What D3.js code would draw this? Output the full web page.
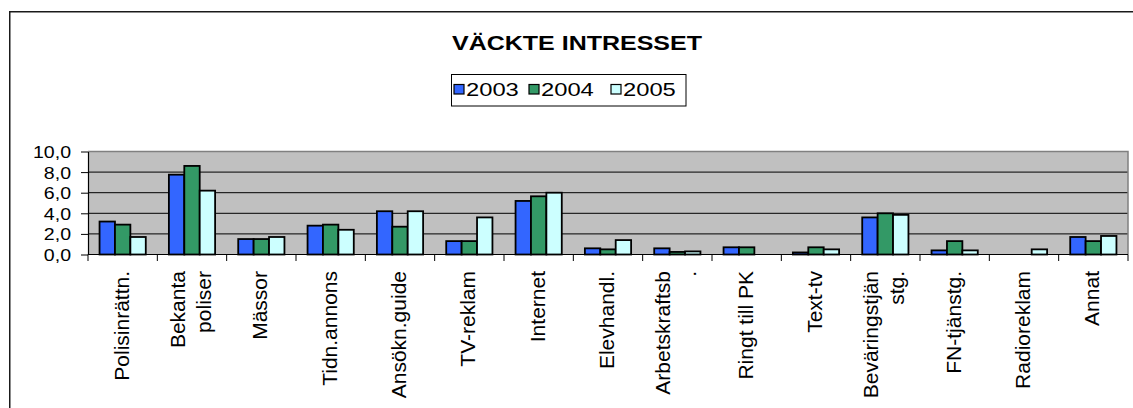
<!DOCTYPE html>
<html><head><meta charset="utf-8">
<script src="https://cdn.jsdelivr.net/npm/d3@7/dist/d3.min.js"></script>
<style>html,body{margin:0;padding:0;background:#fff;overflow:hidden}text{font-family:"Liberation Sans",Arial,sans-serif;fill:#000}</style>
</head><body><svg id="c" width="1133" height="408"></svg>
<script>
const title = "VÄCKTE INTRESSET";
const categories = ["Polisinrättn.","Bekanta\npoliser","Mässor","Tidn.annons","Ansökn.guide","TV-reklam","Internet","Elevhandl.","Arbetskraftsb\n.","Ringt till PK","Text-tv","Beväringstjän\nstg.","FN-tjänstg.","Radioreklam","Annat"];
const seriesNames = ["2003","2004","2005"];
const values2003 = [3.2,7.75,1.5,2.8,4.2,1.3,5.2,0.6,0.6,0.7,0.2,3.6,0.4,0,1.7];
const values2004 = [2.9,8.6,1.5,2.9,2.7,1.3,5.65,0.5,0.25,0.7,0.7,4.0,1.3,0,1.3];
const values2005 = [1.7,6.2,1.7,2.4,4.2,3.6,6.0,1.4,0.3,0,0.5,3.85,0.4,0.5,1.8];
const yTicks = [0,2,4,6,8,10];
const colors = ["#3366FF","#339966","#CCFFFF"];

const svg = d3.select("#c");
const L = 88, R = 1128, T = 151.5, B = 254.5;

// outer border
svg.append("rect").attr("x",9.75).attr("y",11.75).attr("width",1140).attr("height",420)
  .attr("fill","none").attr("stroke","#1a1a1a").attr("stroke-width",1.5);

// title
svg.append("text").attr("transform",`translate(577,49.5) scale(1.19,1)`)
  .attr("text-anchor","middle").attr("font-size",21).attr("font-weight","bold").text(title);

// legend
const lg = svg.append("g");
lg.append("rect").attr("x",451.5).attr("y",74.5).attr("width",234.5).attr("height",31.5)
  .attr("fill","#fff").attr("stroke","#000").attr("stroke-width",1);
const legX = [453.5,528.5,610.5];
seriesNames.forEach((s,i)=>{
  lg.append("rect").attr("x",legX[i]+0.5).attr("y",84.5).attr("width",10).attr("height",9.5)
    .attr("fill",colors[i]).attr("stroke","#000").attr("stroke-width",1.2);
  lg.append("text").attr("transform",`translate(${legX[i]+12.5},96) scale(1.25,1)`)
    .attr("font-size",19).text(s);
});

const x = d3.scaleBand().domain(categories).range([L,R]).padding(0);
const bw = x.bandwidth();
const xi = d3.scaleBand().domain(seriesNames).range([bw/6, bw*5/6]).padding(0);
const y = d3.scaleLinear().domain([0,10]).range([B,T]);

// plot area
svg.append("rect").attr("x",L).attr("y",T).attr("width",R-L).attr("height",B-T).attr("fill","#C0C0C0");
// gridlines
svg.append("g").selectAll("line").data(yTicks.filter(v=>v>0 && v<10)).join("line")
  .attr("x1",L).attr("x2",R).attr("y1",d=>y(d)).attr("y2",d=>y(d)).attr("stroke","#000").attr("stroke-width",1);
// plot border top/right
svg.append("path").attr("d",`M${L},${y(10)}H${R}V${B}`).attr("fill","none").attr("stroke","#808080").attr("stroke-width",1.5);

// bars
const series = [values2003, values2004, values2005];
const bars = [];
series.forEach((vals,si)=>vals.forEach((v,ci)=>{ if(v>0) bars.push({c:categories[ci],s:seriesNames[si],v,si}); }));
svg.append("g").selectAll("rect").data(bars).join("rect")
  .attr("x",d=>x(d.c)+xi(d.s)).attr("width",xi.bandwidth())
  .attr("y",d=>y(d.v)).attr("height",d=>y(0)-y(d.v))
  .attr("fill",d=>colors[d.si]).attr("stroke","#000").attr("stroke-width",1.8);

// y axis
const ya = svg.append("g").attr("transform",`translate(${L},0)`)
  .call(d3.axisLeft(y).tickValues(yTicks).tickSize(7).tickSizeOuter(0).tickFormat(d=>d3.format(".1f")(d).replace(".",",")));
ya.select(".domain").attr("stroke","#000").attr("stroke-width",1.2);
ya.selectAll(".tick line").attr("stroke","#000");
ya.selectAll(".tick text").attr("x",0).attr("dy",null).attr("transform","translate(-17,6) scale(1.15,1)")
  .attr("font-size",17).attr("font-family",null);

// x axis
svg.append("line").attr("x1",L).attr("x2",R).attr("y1",B).attr("y2",B).attr("stroke","#000").attr("stroke-width",1.2);
const tickX = categories.map(c=>x(c)).concat([R]);
svg.append("g").selectAll("line").data(tickX).join("line")
  .attr("x1",d=>d).attr("x2",d=>d).attr("y1",B).attr("y2",B+6.5).attr("stroke","#000");

// category labels
const fs = 21, lineH = 26;
const lab = svg.append("g");
categories.forEach(c=>{
  const lines = c.split("\n");
  const cx = x(c) + bw/2 - 1.5;
  const t = lab.append("text").attr("transform",`translate(${cx},271) rotate(-90)`)
    .attr("text-anchor","end").attr("font-size",fs);
  lines.forEach((ln,i)=>{
    t.append("tspan").attr("x",0).attr("y",(i-(lines.length-1)/2)*lineH + fs*0.35).text(ln);
  });
});
</script></body></html>
